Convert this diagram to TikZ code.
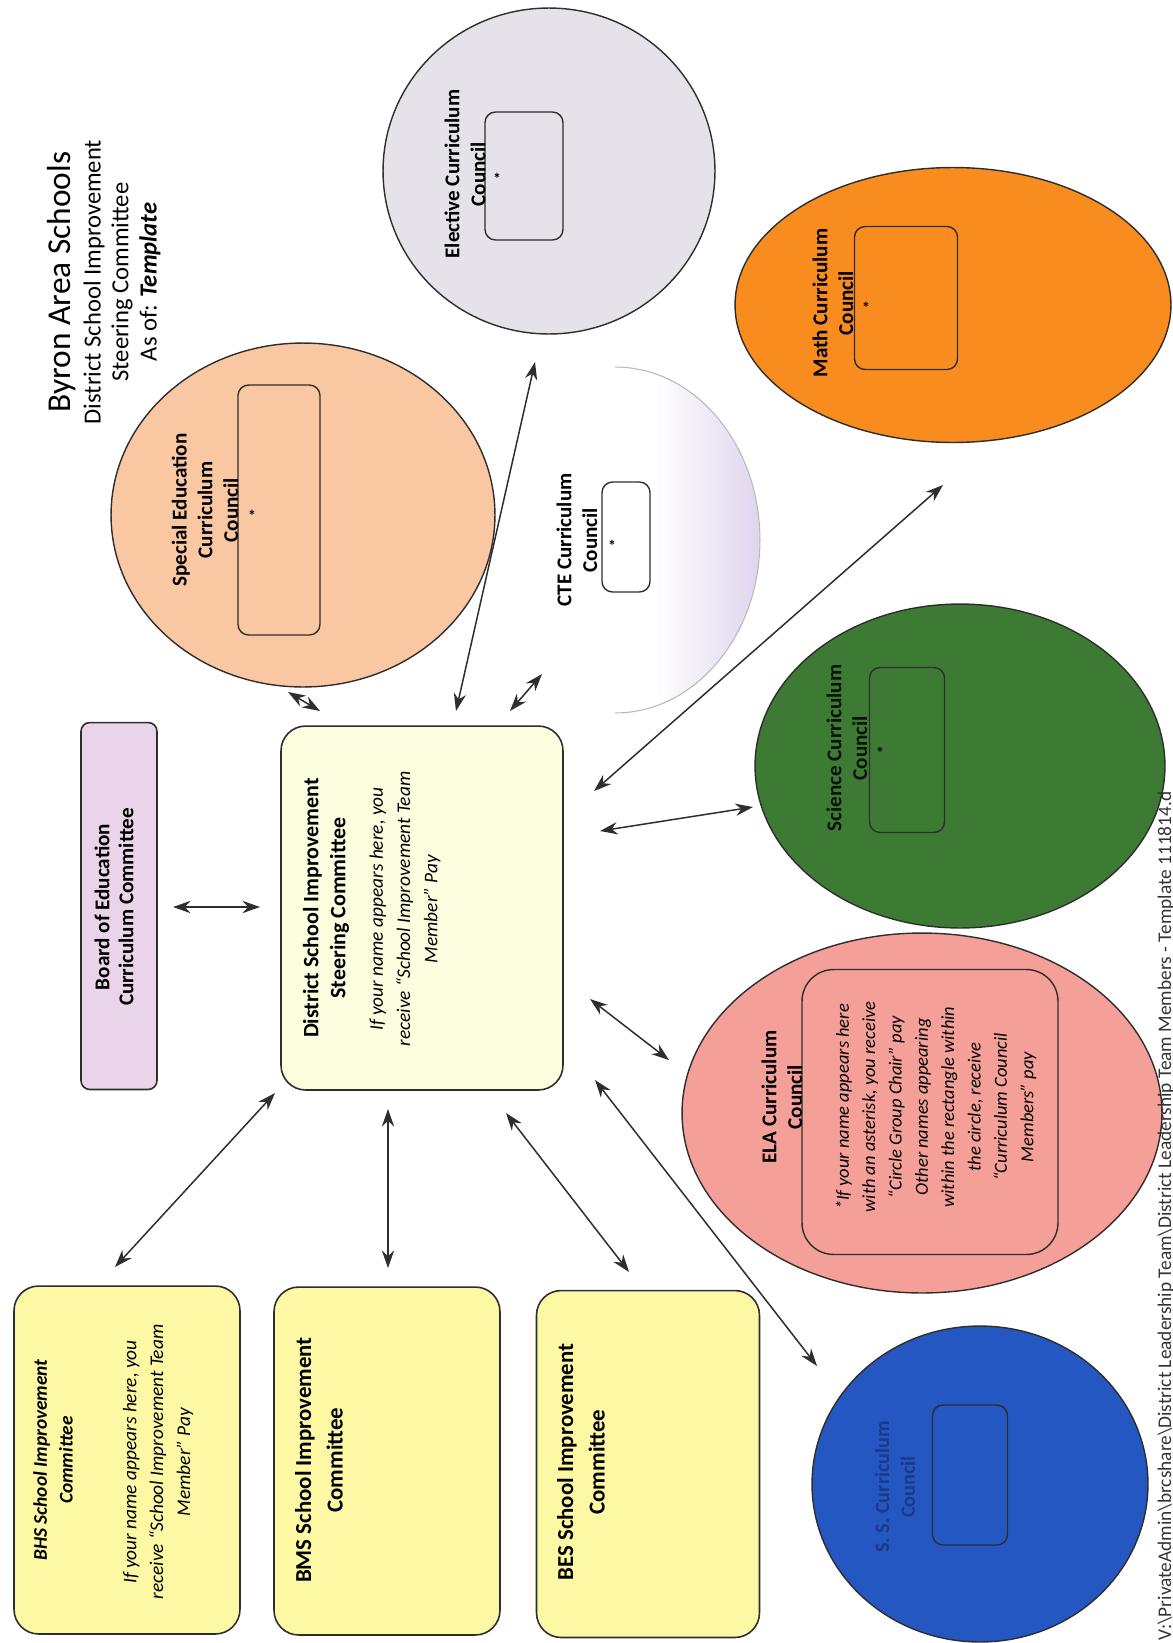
\documentclass[tikz,border=0pt]{standalone}
\usepackage{fontspec}
\setmainfont{Carlito}
\usetikzlibrary{shapes.geometric,arrows.meta}
\definecolor{sped}{HTML}{F9C8A2}
\definecolor{elec}{HTML}{E6E2EA}
\definecolor{ctelav}{HTML}{DFD3EE}
\definecolor{mathor}{HTML}{F98C1E}
\definecolor{sci}{HTML}{3D7A34}
\definecolor{ela}{HTML}{F4A098}
\definecolor{ssblue}{HTML}{2557C2}
\definecolor{ssnavy}{HTML}{1B3A86}
\definecolor{central}{HTML}{FDFDDF}
\definecolor{school}{HTML}{FCF8A4}
\definecolor{board}{HTML}{E9D4EA}
\definecolor{lineclr}{HTML}{2E2E2E}
\begin{document}
\begin{tikzpicture}[x=0.02cm,y=-0.02cm,
  every node/.style={inner sep=0pt, outer sep=0pt},
  council/.style={ellipse, draw=lineclr, line width=0.8pt},
  innerbox/.style={draw=lineclr, rounded corners=6pt, line width=0.8pt},
  bigbox/.style={draw=lineclr, rounded corners=14pt, line width=0.9pt},
  lbl/.style={rotate=90, align=center, text=black},
  dbl/.style={{Stealth[length=10pt,width=7pt]}-{Stealth[length=10pt,width=7pt]}, draw=lineclr, line width=0.85pt},
]
\useasboundingbox (0,0) rectangle (1173,1643);
\fill[white] (0,0) rectangle (1173,1643);

% ---------- title ----------
\node[lbl, font=\fontsize{19}{22}\selectfont] (t1) at (62,282) {Byron Area Schools};
\node[lbl, font=\fontsize{14}{16}\selectfont] (t2) at (94,282) {District School Improvement};
\node[lbl, font=\fontsize{14}{16}\selectfont] (t3) at (122,282) {Steering Committee};
\node[lbl, font=\fontsize{14}{16}\selectfont] (t4) at (150,282) {As of: \textbf{\textit{Template}}};

% ---------- circles ----------
\node[ellipse, fill=white, minimum width=5.8cm, minimum height=6.92cm] (ctec) at (615,540) {};
\begin{scope}
  \clip (615,540) ellipse [x radius=2.9cm, y radius=3.46cm];
  \shade[left color=white, right color=ctelav] (655,360) rectangle (762,720);
\end{scope}
\draw[gray!55, line width=0.6pt] (ctec.north) arc[start angle=90, end angle=-90, x radius=2.9cm, y radius=3.46cm];
\node[council, fill=sped, minimum width=7.68cm, minimum height=6.88cm] (spedc) at (303,515) {};
\node[council, fill=elec, minimum width=6.64cm, minimum height=6.52cm] (elecc) at (549,171) {};
\node[council, fill=mathor, minimum width=8.72cm, minimum height=5.5cm] (mathc) at (953,305) {};
\node[council, fill=sci, minimum width=8.2cm, minimum height=6.48cm] (scic) at (960,766) {};
\node[council, fill=ela, minimum width=9.6cm, minimum height=7.2cm] (elac) at (922,1113) {};
\node[council, fill=ssblue, minimum width=6.72cm, minimum height=6.32cm] (ssc) at (980,1484) {};

% ---------- inner rectangles ----------
\node[innerbox, minimum width=1.64cm, minimum height=5cm] (spedr) at (279,510) {};
\node[innerbox, minimum width=1.56cm, minimum height=2.56cm] (elecr) at (524,176) {};
\node[innerbox, minimum width=0.96cm, minimum height=2.2cm] (cter) at (626,537) {};
\node[innerbox, minimum width=2.06cm, minimum height=2.86cm] (mathr) at (906,298) {};
\node[innerbox, minimum width=1.5cm, minimum height=3.3cm] (scir) at (907,750) {};
\node[innerbox, rounded corners=18pt, minimum width=5.12cm, minimum height=5.7cm] (elar) at (930,1112) {};
\node[innerbox, minimum width=1.5cm, minimum height=2.8cm] (ssr) at (970,1475) {};

% ---------- circle labels ----------
\node[lbl, font=\fontsize{12}{14.7}\selectfont\bfseries] (spedl) at (205,510) {Special Education\\Curriculum\\Council};
\node[lbl, font=\fontsize{12}{14.7}\selectfont\bfseries] (elecl) at (465,174) {Elective Curriculum\\Council};
\node[lbl, font=\fontsize{12}{14.7}\selectfont\bfseries] (ctel) at (577,540) {CTE Curriculum\\Council};
\node[lbl, font=\fontsize{12}{14.7}\selectfont\bfseries] (mathl) at (833,303) {Math Curriculum\\Council};
\node[lbl, font=\fontsize{12}{14.7}\selectfont\bfseries, text=black!85!sci] (scil) at (847,748) {Science Curriculum\\Council};
\node[lbl, font=\fontsize{12}{14.7}\selectfont\bfseries] (elal) at (782,1097) {ELA Curriculum\\Council};
\node[lbl, font=\fontsize{11.5}{14.7}\selectfont\bfseries, text=ssnavy] (ssl) at (895,1487) {S. S. Curriculum\\Council};
\node[lbl, font=\fontsize{10.5}{15}\selectfont\itshape] (elan) at (936,1107) {*If your name appears here\\with an asterisk, you receive\\“Circle Group Chair” pay\\Other names appearing\\within the rectangle within\\the circle, receive\\“Curriculum Council\\Members” pay};

% asterisks
\node[font=\bfseries\small] (speda) at (252,516) {*};
\node[font=\bfseries\small] (eleca) at (497,179) {*};
\node[font=\bfseries\small] (ctea) at (612,546) {*};
\node[font=\bfseries\small] (matha) at (866,308) {*};
\node[font=\bfseries\small] (scia) at (880,753) {*};

% ---------- boxes ----------
\node[bigbox, fill=central, minimum width=5.64cm, minimum height=7.28cm] (dsisc) at (422,908) {};
\node[bigbox, rounded corners=5pt, fill=board, minimum width=1.52cm, minimum height=7.34cm] (board) at (119,906) {};
\node[bigbox, fill=school, minimum width=4.52cm, minimum height=6.96cm] (bhs) at (127,1460) {};
\node[bigbox, fill=school, minimum width=4.52cm, minimum height=6.96cm] (bms) at (387,1461) {};
\node[bigbox, fill=school, minimum width=4.46cm, minimum height=6.94cm] (bes) at (648,1464) {};

\node[lbl, font=\fontsize{12.5}{15.3}\selectfont\bfseries] (dsisct) at (326,908) {District School Improvement\\Steering Committee};
\node[lbl, font=\fontsize{11}{15.5}\selectfont\itshape] (dsiscn) at (405,909) {If your name appears here, you\\receive “School Improvement Team\\Member” Pay};
\node[lbl, font=\fontsize{12}{13.6}\selectfont\bfseries] (boardt) at (114,907) {Board of Education\\Curriculum Committee};
\node[lbl, font=\fontsize{11}{14.7}\selectfont\bfseries\itshape] (bhst) at (53,1460) {BHS School Improvement\\Committee};
\node[lbl, font=\fontsize{11}{15.3}\selectfont\itshape] (bhsn) at (158,1462) {If your name appears here, you\\receive “School Improvement Team\\Member” Pay};
\node[lbl, font=\fontsize{13}{18}\selectfont\bfseries] (bmst) at (319,1460) {BMS School Improvement\\Committee};
\node[lbl, font=\fontsize{13}{18}\selectfont\bfseries] (best) at (581,1462) {BES School Improvement\\Committee};

% ---------- arrow end points ----------
\coordinate (a1) at (173,907);  \coordinate (b1) at (260,907);
\coordinate (a2) at (288,692);  \coordinate (b2) at (320,711);
\coordinate (a3) at (535,362);  \coordinate (b3) at (456,711);
\coordinate (a4) at (542,674);  \coordinate (b4) at (510,711);
\coordinate (a5) at (943,485);  \coordinate (b5) at (594,791);
\coordinate (a6) at (753,807);  \coordinate (b6) at (600,831);
\coordinate (a7) at (669,1060); \coordinate (b7) at (590,999);
\coordinate (a8) at (817,1366); \coordinate (b8) at (595,1080);
\coordinate (a9) at (629,1272); \coordinate (b9) at (506,1113);
\coordinate (a10) at (388,1268); \coordinate (b10) at (388,1109);
\coordinate (a11) at (115,1267); \coordinate (b11) at (275,1093);
\foreach \i in {1,...,11} {\draw[dbl] (a\i) -- (b\i);}

% ---------- footer ----------
\node[rotate=90, anchor=west, font=\fontsize{11}{13}\selectfont, text=black!80] (footer) at (1166,1640) {V:\textbackslash PrivateAdmin\textbackslash brcshare\textbackslash District Leadership Team\textbackslash District Leadership Team Members - Template 111814.d};
\end{tikzpicture}
\end{document}
